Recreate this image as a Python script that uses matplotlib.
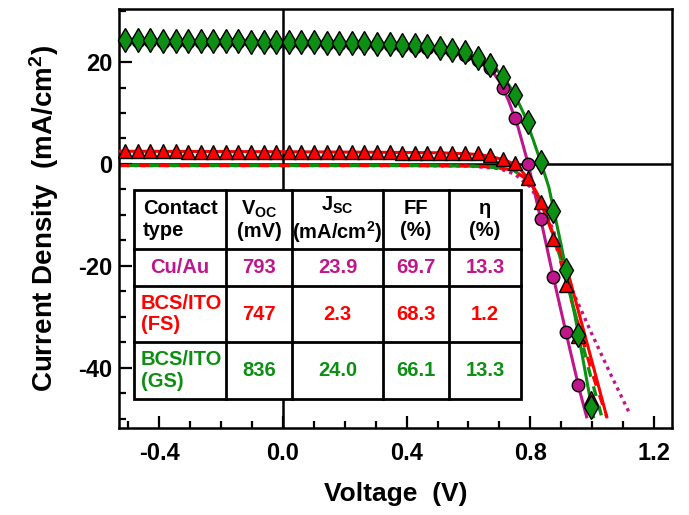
import matplotlib
matplotlib.use('Agg')
import matplotlib.pyplot as plt
from matplotlib.ticker import MultipleLocator, FormatStrFormatter
from matplotlib.patches import Rectangle

plt.rcParams['font.family'] = ['Liberation Sans', 'DejaVu Sans']
plt.rcParams['font.weight'] = 'bold'
plt.rcParams['axes.unicode_minus'] = False
plt.rcParams['mathtext.fontset'] = 'custom'
plt.rcParams['mathtext.rm'] = 'Liberation Sans:bold'
plt.rcParams['mathtext.it'] = 'Liberation Sans:bold'
plt.rcParams['mathtext.bf'] = 'Liberation Sans:bold'

MAGENTA = '#c0168c'
RED = '#ff0000'
GREEN = '#0c8f12'

# measured points (same voltage grid for the three devices)
v_meas = [-0.510, -0.469, -0.429, -0.388, -0.347, -0.307, -0.266, -0.225, -0.184, -0.144,
          -0.103, -0.062, -0.022, 0.019, 0.060, 0.101, 0.141, 0.182, 0.223, 0.263,
          0.304, 0.345, 0.385, 0.426, 0.467, 0.508, 0.548, 0.589, 0.630, 0.670,
          0.711, 0.752, 0.792, 0.833, 0.874, 0.915, 0.955, 0.996]
j_gs = [24.3, 24.3, 24.3, 24.2, 24.2, 24.2, 24.2, 24.1, 24.1, 24.1,
        24.0, 24.0, 24.0, 24.0, 23.9, 23.9, 23.8, 23.8, 23.7, 23.7,
        23.6, 23.5, 23.4, 23.3, 23.1, 22.8, 22.4, 21.9, 20.8, 19.4,
        17.1, 13.5, 8.2, 0.4, -9.3, -20.8, -33.5, -47.6]
j_cuau = [24.1, 24.1, 24.1, 24.0, 24.0, 24.0, 24.0, 23.9, 23.9, 23.9,
          23.9, 23.8, 23.8, 23.8, 23.7, 23.7, 23.6, 23.6, 23.5, 23.5,
          23.4, 23.3, 23.2, 23.0, 22.8, 22.5, 22.1, 21.4, 20.4, 18.8,
          15.0, 9.0, 0.0, -10.8, -22.1, -33.0, -43.3]
j_fs = [2.5, 2.5, 2.5, 2.5, 2.5, 2.4, 2.4, 2.4, 2.4, 2.4,
        2.4, 2.4, 2.4, 2.3, 2.3, 2.3, 2.3, 2.3, 2.3, 2.3,
        2.3, 2.3, 2.2, 2.2, 2.2, 2.2, 2.2, 2.1, 2.1, 1.8,
        1.0, 0.1, -2.8, -7.5, -14.8, -23.7, -33.8, -45.9]

# fitted illuminated curves
v_cuau_fit = [-0.53, 0.0, 0.3, 0.45, 0.55, 0.6, 0.64, 0.67, 0.70, 0.73, 0.76, 0.78,
              0.793, 0.81, 0.84, 0.87, 0.90, 0.93, 0.96, 0.982]
j_cuau_fit = [24.0, 23.8, 23.4, 22.8, 21.9, 20.9, 19.9, 18.8, 16.2, 12.4, 7.3, 2.9,
              0.0, -4.5, -12.6, -21.0, -29.0, -36.9, -44.6, -49.6]
v_fs_fit = [-0.53, 0.0, 0.3, 0.5, 0.6, 0.65, 0.69, 0.72, 0.747, 0.77, 0.80, 0.83,
            0.86, 0.90, 0.928, 0.96, 1.0, 1.047]
j_fs_fit = [2.5, 2.4, 2.3, 2.2, 2.0, 1.7, 1.2, 0.7, 0.0, -1.2, -3.5, -7.0,
            -11.6, -17.8, -22.7, -29.9, -38.9, -49.6]
v_gs_fit = [-0.53, 0.0, 0.2, 0.4, 0.5, 0.55, 0.6, 0.65, 0.69, 0.72, 0.75, 0.78,
            0.81, 0.836, 0.86, 0.90, 0.95, 1.004]
j_gs_fit = [24.3, 24.0, 23.8, 23.4, 22.9, 22.4, 21.6, 20.2, 18.6, 16.5, 13.6, 9.7,
            4.6, 0.0, -4.6, -16.0, -31.6, -49.6]

# dark curves
v_cuau_dark = [-0.53, 0.0, 0.4, 0.6, 0.70, 0.75, 0.80, 0.85, 0.90, 0.935, 1.0, 1.06, 1.123]
j_cuau_dark = [-0.3, -0.3, -0.3, -0.4, -0.9, -2.0, -4.5, -9.5, -17.0, -24.7, -33.5, -41.3, -49.2]
v_fs_dark = [-0.53, 0.0, 0.4, 0.6, 0.65, 0.70, 0.745, 0.80, 0.83, 0.87, 0.90, 0.95, 1.0, 1.047]
j_fs_dark = [-0.3, -0.3, -0.3, -0.4, -0.5, -0.8, -1.2, -3.5, -6.7, -13.3, -19.5, -30.5, -41.0, -49.6]
v_gs_dark = [-0.53, 0.0, 0.4, 0.6, 0.65, 0.70, 0.745, 0.80, 0.83, 0.87, 0.90, 0.95, 0.99, 1.031]
j_gs_dark = [-0.3, -0.3, -0.3, -0.4, -0.5, -0.8, -1.2, -3.5, -6.7, -13.0, -19.0, -30.5, -40.5, -49.6]

# table contents
col_heads = ['Contact\ntype', 'V$_{OC}$\n(mV)', 'J$_{SC}$\n(mA/cm$^2$)', 'FF\n(%)', 'η\n(%)']
contacts = ['Cu/Au', 'BCS/ITO\n(FS)', 'BCS/ITO\n(GS)']
voc = ['793', '747', '836']
jsc = ['23.9', '2.3', '24.0']
ff = ['69.7', '68.3', '66.1']
eta = ['13.3', '1.2', '13.3']
row_colors = [MAGENTA, RED, GREEN]

fig = plt.figure(figsize=(6.89, 5.15), dpi=100)
ax = fig.add_axes([0.1727, 0.1689, 0.8026, 0.8136])

ax.axhline(0, color='k', lw=1.8, zorder=1)
ax.axvline(0, color='k', lw=1.8, zorder=1)

ax.plot(v_cuau_dark, j_cuau_dark, color=MAGENTA, lw=2.4, ls=(0, (1, 1.3)), zorder=2)
ax.plot(v_fs_dark, j_fs_dark, color=RED, lw=2.4, ls=(0, (3, 3)), zorder=2)
ax.plot(v_gs_dark, j_gs_dark, color=GREEN, lw=2.4, ls=(3, (3, 3)), zorder=2)

ax.plot(v_cuau_fit, j_cuau_fit, color=MAGENTA, lw=2.2, zorder=3)
ax.plot(v_fs_fit, j_fs_fit, color=RED, lw=2.2, zorder=3)
ax.plot(v_gs_fit, j_gs_fit, color=GREEN, lw=2.2, zorder=3)

ax.plot(v_meas[:len(j_cuau)], j_cuau, ls='none', marker='o', ms=9, mfc=MAGENTA,
        mec='k', mew=1.0, zorder=4, clip_on=False)
ax.plot(v_meas, j_fs, ls='none', marker='^', ms=9.5, mfc=RED, mec='k', mew=1.0,
        zorder=5, clip_on=False)
ax.plot(v_meas, j_gs, ls='none', marker='d', ms=12, mfc=GREEN, mec='k', mew=1.0,
        zorder=6, clip_on=False)

ax.set_xlim(-0.53, 1.258)
ax.set_ylim(-51.8, 30.4)
ax.xaxis.set_major_locator(MultipleLocator(0.4))
ax.xaxis.set_minor_locator(MultipleLocator(0.1))
ax.xaxis.set_major_formatter(FormatStrFormatter('%.1f'))
ax.yaxis.set_major_locator(MultipleLocator(20))
ax.yaxis.set_minor_locator(MultipleLocator(5))
ax.tick_params(which='both', direction='in', width=1.6, labelsize=17)
ax.tick_params(which='major', length=9)
ax.tick_params(which='minor', length=5)
ax.tick_params(axis='x', pad=10)
ax.tick_params(axis='y', pad=5)
for s in ax.spines.values():
    s.set_linewidth(1.8)

ax.set_xlabel('Voltage  (V)', fontsize=19, fontweight='bold', labelpad=12)
ax.set_ylabel('Current Density  (mA/cm$^2$)', fontsize=20, fontweight='bold', labelpad=12)

# --- table (layout in pixel positions of the reference, mapped to axes fraction)
def ax_xy(px, py):
    return (px - 119) / 553.0, (428 - py) / 419.0

col_edges = [134, 226, 292, 383, 449, 521]
row_edges = [190, 249, 286, 342, 399]

x0, y0 = ax_xy(col_edges[0], row_edges[-1])
x1, y1 = ax_xy(col_edges[-1], row_edges[0])
ax.add_patch(Rectangle((x0, y0), x1 - x0, y1 - y0, transform=ax.transAxes,
                       facecolor='white', edgecolor='k', lw=2.0, zorder=10))
for cx in col_edges[1:-1]:
    xa, ya0 = ax_xy(cx, row_edges[0])
    _, ya1 = ax_xy(cx, row_edges[-1])
    ax.plot([xa, xa], [ya0, ya1], transform=ax.transAxes, color='k', lw=2.0, zorder=11)
for ry in row_edges[1:-1]:
    xa0, ya = ax_xy(col_edges[0], ry)
    xa1, _ = ax_xy(col_edges[-1], ry)
    ax.plot([xa0, xa1], [ya, ya], transform=ax.transAxes, color='k', lw=2.0, zorder=11)

col_centers = [(a + b) / 2 for a, b in zip(col_edges[:-1], col_edges[1:])]
row_centers = [(a + b) / 2 for a, b in zip(row_edges[:-1], row_edges[1:])]

tkw = dict(transform=ax.transAxes, fontsize=14.5, fontweight='bold', va='center',
           zorder=12, linespacing=1.15)
hx, hy = ax_xy(143, row_centers[0])
ax.text(hx, hy, col_heads[0], ha='left', **tkw)
for i in range(1, 5):
    hx, hy = ax_xy(col_centers[i], row_centers[0])
    ax.text(hx, hy, col_heads[i], ha='center', multialignment='center', **tkw)

for r in range(3):
    c = row_colors[r]
    if '\n' in contacts[r]:
        tx, ty = ax_xy(141, row_centers[r + 1])
        ax.text(tx, ty, contacts[r], ha='left', color=c, **tkw)
    else:
        tx, ty = ax_xy(col_centers[0], row_centers[r + 1])
        ax.text(tx, ty, contacts[r], ha='center', color=c, **tkw)
    for i, vals in enumerate([voc, jsc, ff, eta]):
        tx, ty = ax_xy(col_centers[i + 1], row_centers[r + 1])
        ax.text(tx, ty, vals[r], ha='center', color=c, **tkw)

fig.savefig('out.png', dpi=100)
